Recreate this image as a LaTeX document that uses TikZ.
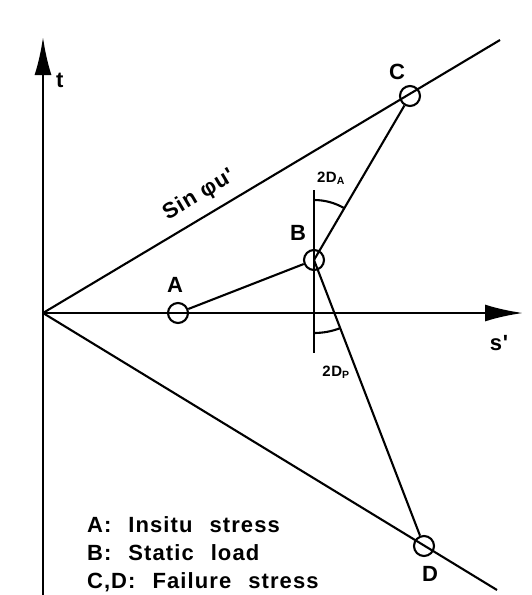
\documentclass[tikz,border=0pt]{standalone}
\usepackage{fontspec}
\setmainfont{Liberation Sans}
\newfontfamily\lblfont{Liberation Sans Bold}[LetterSpace=5]
\newfontfamily\lblfontwide{Liberation Sans Bold}[LetterSpace=4]
\usetikzlibrary{arrows.meta}
\begin{document}
\begin{tikzpicture}[x=1pt,y=-1pt,line width=2.1pt,
  pt/.style={circle,draw,line width=2.1pt,minimum size=20pt,inner sep=0pt},
  lbl/.style={font=\lblfontwide\fontsize{22}{26}\selectfont,inner sep=0pt},
  ang/.style={font=\lblfontwide\fontsize{15}{18}\selectfont,inner sep=0pt},
  leg/.style={font=\lblfont\fontsize{22}{26}\selectfont,inner sep=0pt,anchor=base west},
  axarrow/.style={-{Latex[length=38pt,width=17pt]},line width=2.6pt}]
\useasboundingbox (0,0) rectangle (531,595);
% axes
\coordinate (O) at (43,313);
\coordinate (ybot) at (43,595);
\coordinate (ytop) at (43,37);
\coordinate (xend) at (523,313);
\draw[axarrow] (ybot) -- (ytop);
\draw[axarrow] (O) -- (xend);
\node[lbl,anchor=base west] (tl) at (55,87) {t};
\node[lbl] (sl) at (499,343) {s'};
% envelope lines
\coordinate (up) at (500,40);
\coordinate (lo) at (497,590);
\draw (O) -- (up);
\draw (O) -- (lo);
\node[lbl,rotate=30.6] (sinl) at (199,195) {Sin φu'};
% stress points
\node[pt] (A) at (178,313) {};
\node[pt] (B) at (314,260) {};
\node[pt] (C) at (410,96) {};
\node[pt] (D) at (424,546) {};
\node[lbl] (Al) at (175,285) {A};
\node[lbl] (Bl) at (298,233) {B};
\node[lbl] (Cl) at (397,72) {C};
\node[lbl] (Dl) at (430,574) {D};
% paths
\draw (A) -- (B);
\draw (B.center) -- (C);
\draw (B.center) -- (D);
\coordinate (vt) at (314,190);
\coordinate (vb) at (314,353);
\draw (vt) -- (vb);
% angle arcs
\draw (B.center) ++(-90:60) arc[start angle=-90,end angle=-59.7,radius=60];
\draw (B.center) ++(90:73) arc[start angle=90,end angle=69,radius=73];
\node[ang] (dal) at (331,178) {2D\textsubscript{A}};
\node[ang] (dpl) at (336,372) {2D\textsubscript{P}};
% legend
\node[leg] (l1) at (86,532) {A:\hspace{17pt}Insitu\hspace{17pt}stress};
\node[leg] (l2) at (86,560) {B:\hspace{17pt}Static\hspace{17pt}load};
\node[leg] (l3) at (86,588) {C,D:\hspace{17pt}Failure\hspace{17pt}stress};
\end{tikzpicture}
\end{document}
